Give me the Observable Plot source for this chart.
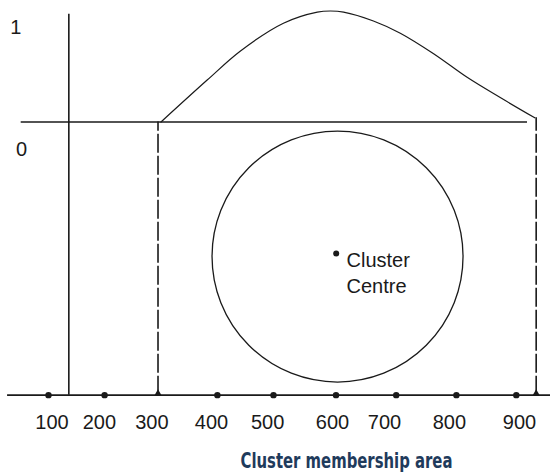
<!DOCTYPE html>
<html>
<head>
<meta charset="utf-8">
<script src="https://cdn.jsdelivr.net/npm/d3@7"></script>
<script src="https://cdn.jsdelivr.net/npm/@observablehq/plot@0.6"></script>
<style>
  html, body { margin: 0; padding: 0; background: #ffffff; }
  #chart svg { display: block; }
</style>
</head>
<body>
<div id="chart"></div>
<script>
// ---- Data (diagram units: x = cluster attribute value, y = membership degree) ----
const tickLabels   = ["100", "200", "300", "400", "500", "600", "700", "800", "900"];
const tickLabelPos = [100, 181, 271, 373, 469, 580, 669, 780, 900];

// cluster members lying on the attribute axis
const memberX = [94, 190, 383, 479, 586, 689, 792, 894.5];

// membership function (bell-like) between the area bounds
const curveX = [286.5, 366, 422.5, 496, 554, 576.6, 599, 650, 696, 753, 811, 867, 926.1];
const curveM = [0, 0.38, 0.64, 0.89, 0.99, 1.0, 0.99, 0.91, 0.80, 0.615, 0.40, 0.22, 0.038];

// cluster membership area bounds
const areaBounds = [281.4, 928.5];
const boundTopM  = [0, 0.038];

// axis constants
const yAxisX      = 128.8;
const baseY       = -2.461;   // level of the attribute axis
const axisTopM    = 0.971;
const zeroLineX   = [47.3, 913.7];
const baseLineX   = [24, 960];

// membership labels
const memLabels    = ["1", "0"];
const memLabelX    = [38, 48];
const memLabelM    = [0.797, -0.302];

// cluster
const centreX = 586.3, centreM = -1.185;
const circleX = 588.6, circleM = -1.212;
const centreText  = ["Cluster", "Centre"];
const centreTextX = [604, 604];
const centreTextM = [-1.308, -1.545];

const tickLabelM = -2.770;
const titleText = "Cluster membership area";
const titleX = 603.9, titleM = -3.113;

// ---- Tables built from arrays ----
const curve = curveX.map((x, i) => ({x, m: curveM[i]}));
const members = memberX.map(x => ({x, m: baseY}));
const ticks = tickLabels.map((t, i) => ({t, x: tickLabelPos[i], m: tickLabelM}));
const bounds = areaBounds.map((x, i) => ({x, top: boundTopM[i]}));
const memTxt = memLabels.map((t, i) => ({t, x: memLabelX[i], m: memLabelM[i]}));
const cText = centreText.map((t, i) => ({t, x: centreTextX[i], m: centreTextM[i]}));

const ink = "#1a1a1a";
const font = "'Liberation Sans', Arial, sans-serif";

const chart = Plot.plot({
  width: 550,
  height: 474,
  margin: 0,
  style: {background: "#ffffff"},
  x: {type: "linear", domain: [0, 1000], range: [-6.94, 577.46], axis: null},
  y: {type: "linear", domain: [0, 1], range: [121.5, 10.5], axis: null},
  marks: [
    // attribute axis (bottom)
    Plot.ruleY([baseY], {x1: baseLineX[0], x2: baseLineX[1], stroke: ink, strokeWidth: 1.6}),
    // membership axis (vertical)
    Plot.ruleX([yAxisX], {y1: baseY, y2: axisTopM, stroke: ink, strokeWidth: 1.6}),
    // zero membership line
    Plot.ruleY([0], {x1: zeroLineX[0], x2: zeroLineX[1], stroke: ink, strokeWidth: 1.6}),
    // dashed bounds of membership area
    Plot.ruleX(bounds, {x: "x", y1: baseY, y2: "top", stroke: ink, strokeWidth: 1.6, strokeDasharray: "19,3"}),
    Plot.dot(bounds, {x: "x", y: baseY, dy: -2, symbol: "triangle", r: 2.6, fill: ink, stroke: "none"}),
    // membership function
    Plot.line(curve, {x: "x", y: "m", curve: "catmull-rom", stroke: ink, strokeWidth: 1.2}),
    // cluster circle
    Plot.dot([{x: circleX, m: circleM}], {x: "x", y: "m", r: 125.5, stroke: ink, strokeWidth: 1.3, fill: "none"}),
    // cluster centre
    Plot.dot([{x: centreX, m: centreM}], {x: "x", y: "m", r: 3, fill: ink}),
    Plot.text(cText, {x: "x", y: "m", text: "t", textAnchor: "start", lineAnchor: "bottom", fontSize: 20, fontFamily: font, fill: ink}),
    // members on the axis
    Plot.dot(members, {x: "x", y: "m", r: 3.2, fill: ink}),
    // tick labels
    Plot.text(ticks, {x: "x", y: "m", text: "t", lineAnchor: "bottom", fontSize: 20, fontFamily: font, fill: ink}),
    // membership labels
    Plot.text(memTxt, {x: "x", y: "m", text: "t", lineAnchor: "bottom", fontSize: 20, fontFamily: font, fill: ink}),
    // title
    Plot.text([titleText], {x: titleX, y: titleM, text: d => d, lineAnchor: "bottom", fontSize: 22, fontWeight: "bold", fontFamily: "'DejaVu Sans Condensed', 'DejaVu Sans', sans-serif", fill: "#1f3b5c", className: "ttl"})
  ]
});

d3.select(chart).selectAll(".ttl text")
  .attr("textLength", 212)
  .attr("lengthAdjust", "spacingAndGlyphs");

document.getElementById("chart").appendChild(chart);
</script>
</body>
</html>
